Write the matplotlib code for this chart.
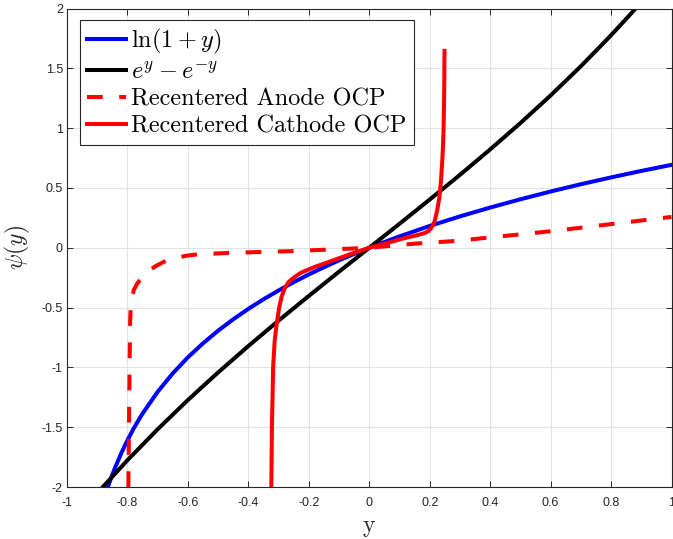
import matplotlib
matplotlib.use("Agg")
import matplotlib.pyplot as plt

plt.rcParams["mathtext.fontset"] = "cm"
plt.rcParams["font.family"] = ["Liberation Sans", "DejaVu Sans"]

# ln(1+y)
log_x = [-0.865, -0.86, -0.85, -0.84, -0.82, -0.8, -0.78, -0.76, -0.75, -0.7, -0.65,
         -0.6, -0.55, -0.5, -0.45, -0.4, -0.35, -0.3, -0.25, -0.2, -0.15, -0.1, -0.05,
         0.0, 0.1, 0.2, 0.3, 0.4, 0.5, 0.6, 0.7, 0.8, 0.9, 1.0]
log_y = [-2.0, -1.966, -1.897, -1.833, -1.715, -1.609, -1.514, -1.427, -1.386, -1.204, -1.05,
         -0.916, -0.799, -0.693, -0.598, -0.511, -0.431, -0.357, -0.288, -0.223, -0.163, -0.105, -0.051,
         0.0, 0.095, 0.182, 0.262, 0.336, 0.405, 0.47, 0.531, 0.588, 0.642, 0.693]

# e^y - e^-y, black curve
exp_x = [-0.88, -0.8, -0.7, -0.6, -0.5, -0.4, -0.3, -0.2, -0.1, 0.0,
         0.1, 0.2, 0.3, 0.4, 0.5, 0.6, 0.7, 0.8, 0.88]
exp_y = [-1.996, -1.776, -1.517, -1.273, -1.042, -0.822, -0.609, -0.403, -0.2, 0.0,
         0.2, 0.403, 0.609, 0.822, 1.042, 1.273, 1.517, 1.776, 1.996]

# recentered anode OCP (dashed red)
anode_x = [-0.797, -0.795, -0.793, -0.791, -0.789, -0.785, -0.779, -0.768, -0.757, -0.73,
           -0.707, -0.669, -0.608, -0.564, -0.504, -0.464, -0.265, -0.133, 0.0, 0.155,
           0.287, 0.608, 0.951, 1.0]
anode_y = [-2.0, -1.5, -1.0, -0.6, -0.5, -0.42, -0.354, -0.3, -0.265, -0.195,
           -0.154, -0.104, -0.068, -0.054, -0.048, -0.043, -0.029, -0.015, 0.0, 0.035,
           0.057, 0.14, 0.243, 0.258]

# recentered cathode OCP (solid red)
cathode_x = [-0.324, -0.322, -0.318, -0.313, -0.308, -0.304, -0.298, -0.29, -0.28, -0.268,
             -0.25, -0.227, -0.18, -0.133, -0.07, 0.0, 0.06, 0.11, 0.15, 0.177, 0.187,
             0.196, 0.203, 0.21, 0.216, 0.221, 0.226, 0.232, 0.237, 0.241, 0.244, 0.246,
             0.248, 0.249]
cathode_y = [-2.0, -1.5, -1.0, -0.78, -0.67, -0.6, -0.5, -0.41, -0.34, -0.29,
             -0.25, -0.21, -0.16, -0.118, -0.06, 0.0, 0.04, 0.076, 0.1, 0.118, 0.127,
             0.14, 0.158, 0.185, 0.22, 0.27, 0.33, 0.42, 0.55, 0.7, 0.85, 1.0,
             1.3, 1.646]

xticks = [-1, -0.8, -0.6, -0.4, -0.2, 0, 0.2, 0.4, 0.6, 0.8, 1]
xtick_labels = ["-1", "-0.8", "-0.6", "-0.4", "-0.2", "0", "0.2", "0.4", "0.6", "0.8", "1"]
yticks = [-2, -1.5, -1, -0.5, 0, 0.5, 1, 1.5, 2]
ytick_labels = ["-2", "-1.5", "-1", "-0.5", "0", "0.5", "1", "1.5", "2"]

dark = "#262626"
lw = 2.9

fig = plt.figure(figsize=(6.73, 5.39), dpi=100)
ax = fig.add_axes([67 / 673, 1 - 487 / 539, 604.5 / 673, 478.5 / 539])

ax.plot(log_x, log_y, color="#0000ff", lw=lw, label=r"$\ln(1+y)$")
ax.plot(exp_x, exp_y, color="black", lw=lw, label=r"$e^y-e^{-y}$")
ax.plot(anode_x, anode_y, color="#ff0000", lw=lw, ls=(0, (3.9, 4.1)),
        label="Recentered Anode OCP")
ax.plot(cathode_x, cathode_y, color="#ff0000", lw=lw,
        label="Recentered Cathode OCP")

ax.set_xlim(-1, 1)
ax.set_ylim(-2, 2)
ax.set_xticks(xticks)
ax.set_xticklabels(xtick_labels)
ax.set_yticks(yticks)
ax.set_yticklabels(ytick_labels)
ax.tick_params(direction="in", length=4.3, width=0.7, colors=dark, labelsize=9,
               top=True, right=True)
ax.tick_params(axis="x", pad=7)
ax.tick_params(axis="y", pad=3)
for s in ax.spines.values():
    s.set_color(dark)
    s.set_linewidth(0.8)
ax.grid(True, color="#e3e3e3", lw=0.8)
ax.set_axisbelow(True)

ax.set_xlabel(r"$\mathrm{y}$", fontsize=17, color=dark, labelpad=6)
ax.set_ylabel(r"$\psi(y)$", fontsize=17, color=dark, labelpad=7)

leg = ax.legend(loc="upper left", bbox_to_anchor=(0.0215, 0.976), borderaxespad=0,
                prop={"family": "cmr10", "size": 17.5}, handlelength=1.6,
                handletextpad=0.2, labelspacing=0.2, borderpad=0.3,
                fancybox=False, framealpha=1)
leg.get_frame().set_edgecolor(dark)
leg.get_frame().set_linewidth(0.8)

fig.savefig("out.png", dpi=100)
